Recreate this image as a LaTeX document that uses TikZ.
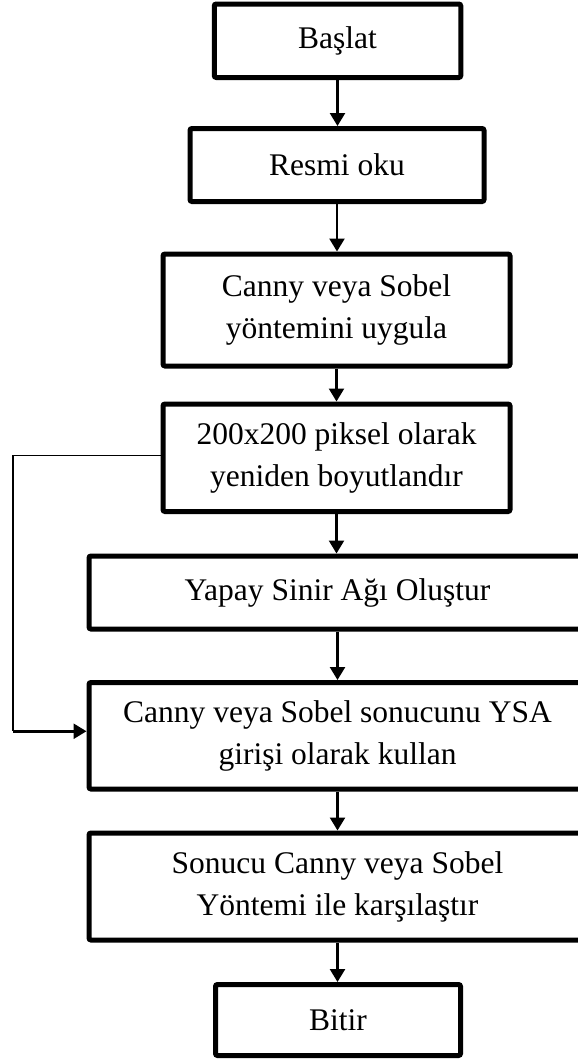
\documentclass[tikz,border=0pt]{standalone}
\usepackage{fontspec}
\setmainfont{Liberation Serif}
\usetikzlibrary{arrows.meta}
\begin{document}
\begin{tikzpicture}[x=1pt,y=-1pt,
  stepbox/.style={draw=black, line width=5pt, rounded corners=2pt, fill=white,
    align=center, inner sep=0pt,
    font=\fontsize{31.5}{42}\selectfont},
  arr/.style={line width=2.5pt, -{Triangle[length=13pt,width=15pt]}},
  fbline/.style={line width=1.3pt}]
\useasboundingbox (0,0) rectangle (578,1063);
\fill[white] (0,0) rectangle (578,1063);
\node[stepbox, minimum width=246.5pt, minimum height=73.5pt] (n1) at (337.5,40.75) {Başlat};
\node[stepbox, minimum width=294pt, minimum height=73pt] (n2) at (337,165) {Resmi oku};
\node[stepbox, minimum width=347pt, minimum height=112pt] (n3) at (336.5,310) {Canny veya Sobel\\yöntemini uygula};
\node[stepbox, minimum width=347pt, minimum height=107.5pt] (n4) at (336.5,457.75) {200x200 piksel olarak\\yeniden boyutlandır};
\node[stepbox, minimum width=497pt, minimum height=73pt] (n5) at (337.5,592.5) {Yapay Sinir Ağı Oluştur};
\node[stepbox, minimum width=497pt, minimum height=106.5pt] (n6) at (337.5,735.75) {Canny veya Sobel sonucunu YSA\\girişi olarak kullan};
\node[stepbox, minimum width=497pt, minimum height=107pt] (n7) at (337.5,886.5) {Sonucu Canny veya Sobel\\Yöntemi ile karşılaştır};
\node[stepbox, minimum width=245pt, minimum height=71pt] (n8) at (338,1020) {Bitir};
\draw[arr] (n1.south) -- (n1.south |- n2.north);
\draw[arr] (n2.south) -- (n2.south |- n3.north);
\draw[arr] (n3.south) -- (n3.south |- n4.north);
\draw[arr] (n4.south) -- (n4.south |- n5.north);
\draw[arr] (n5.south) -- (n5.south |- n6.north);
\draw[arr] (n6.south) -- (n6.south |- n7.north);
\draw[arr] (n7.south) -- (n7.south |- n8.north);
\coordinate (fbx) at (13,0);
\draw[fbline] ([yshift=2.5pt]n4.west) -- ([yshift=2.5pt]n4.west -| fbx) -- ([yshift=4.5pt]n6.west -| fbx);
\draw[arr] ([yshift=4.5pt]n6.west -| fbx) -- ([yshift=4.5pt]n6.west);
\end{tikzpicture}
\end{document}
